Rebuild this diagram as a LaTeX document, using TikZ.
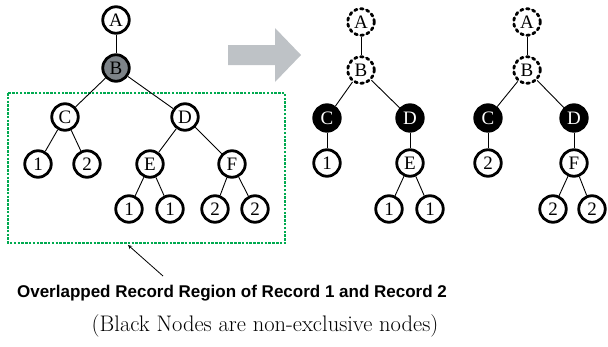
\documentclass[tikz,border=0pt]{standalone}
\usepackage{fontspec}
\usepackage{tikz}
\usetikzlibrary{arrows,positioning,shapes}
\newfontfamily\nodefont{Liberation Serif}
\newfontfamily\labelfont{Liberation Sans}
\definecolor{gray75}{RGB}{190,194,198}
\definecolor{grayB}{RGB}{125,131,136}
\definecolor{regiongreen}{RGB}{0,170,80}

\begin{document}
\begin{tikzpicture}
[x=1pt,y=-1pt,align=center]
\tikzstyle{plain}=[circle,draw,fill=white,line width=2.8pt,minimum size=26.5pt,inner sep=0pt,font=\nodefont\fontsize{19}{19}\selectfont]
\tikzstyle{shared}=[plain,fill=black,text=white]
\tikzstyle{ghost}=[plain,line cap=round,dash pattern=on 2.6pt off 3.6pt]
\tikzstyle{link}=[line width=0.9pt]

\useasboundingbox (0,0) rectangle (608,346);

% record region
\draw [regiongreen,line width=2.5pt,dash pattern=on 2.5pt off 1.3pt] (8,93) rectangle (285,243);
\coordinate (regionbottom) at (128,245);

% left tree
\draw node [plain] (A0) at (116,20) {A};
\draw node [plain,fill=grayB] (B0) at (116,68) {B};
\draw node [plain] (C0) at (65,117) {C};
\draw node [plain] (D0) at (185,117) {D};
\draw node [plain] (C01) at (38,164) {1};
\draw node [plain] (C02) at (87,164) {2};
\draw node [plain] (E0) at (150,164) {E};
\draw node [plain] (F0) at (232,164) {F};
\draw node [plain] (E01) at (129,209) {1};
\draw node [plain] (E02) at (170,209) {1};
\draw node [plain] (F01) at (215,209) {2};
\draw node [plain] (F02) at (255,209) {2};

\draw [link] (A0) -- (B0);
\draw [link] (B0) -- (C0);
\draw [link] (B0) -- (D0);
\draw [link] (C0) -- (C01);
\draw [link] (C0) -- (C02);
\draw [link] (D0) -- (E0);
\draw [link] (D0) -- (F0);
\draw [link] (E0) -- (E01);
\draw [link] (E0) -- (E02);
\draw [link] (F0) -- (F01);
\draw [link] (F0) -- (F02);

% gray arrow
\fill [gray75] (228,45) -- (275,45) -- (275,28) -- (301,55) -- (275,82) -- (275,65) -- (228,65) -- cycle;

% record 1
\draw node [ghost] (A1) at (361,22) {A};
\draw node [ghost] (B1) at (361,70) {B};
\draw node [shared] (C1) at (327,118) {C};
\draw node [shared] (D1) at (410,118) {D};
\draw node [plain] (C11) at (327,163) {1};
\draw node [plain] (E1) at (410,163) {E};
\draw node [plain] (E11) at (389,209) {1};
\draw node [plain] (E12) at (430,209) {1};

\draw [link] (A1) -- (B1);
\draw [link] (B1) -- (C1);
\draw [link] (B1) -- (D1);
\draw [link] (C1) -- (C11);
\draw [link] (D1) -- (E1);
\draw [link] (E1) -- (E11);
\draw [link] (E1) -- (E12);

% record 2
\draw node [ghost] (A2) at (527,22) {A};
\draw node [ghost] (B2) at (527,70) {B};
\draw node [shared] (C2) at (488,118) {C};
\draw node [shared] (D2) at (574,118) {D};
\draw node [plain] (C21) at (488,163) {2};
\draw node [plain] (F2) at (574,163) {F};
\draw node [plain] (F21) at (553,209) {2};
\draw node [plain] (F22) at (592,209) {2};

\draw [link] (A2) -- (B2);
\draw [link] (B2) -- (C2);
\draw [link] (B2) -- (D2);
\draw [link] (C2) -- (C21);
\draw [link] (D2) -- (F2);
\draw [link] (F2) -- (F21);
\draw [link] (F2) -- (F22);

% captions
\draw node [font=\labelfont\bfseries\fontsize{17}{17}\selectfont] (overlap) at (232,293) {Overlapped Record Region of Record 1 and Record 2};
\draw node [font=\fontsize{22.5}{22.5}\selectfont] (note) at (265,326) {(Black Nodes are non-exclusive nodes)};
\coordinate (pointer) at (163,276);
\draw [-stealth,line width=0.8pt] (pointer) -- (regionbottom);

\end{tikzpicture}
\end{document}
